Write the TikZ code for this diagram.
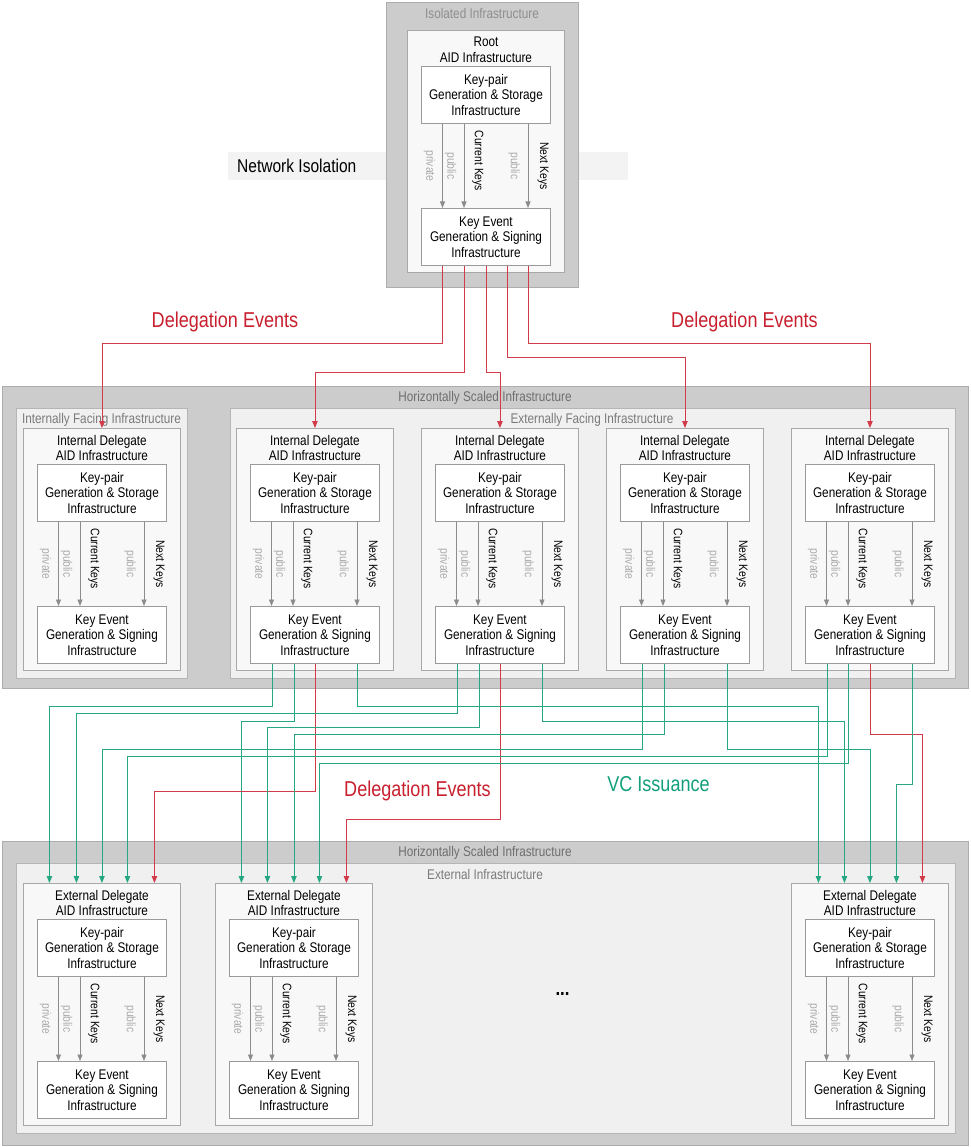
\documentclass[tikz,border=0pt]{standalone}
\usepackage{fontspec}
\setmainfont{Liberation Sans}[FakeStretch=0.84]
\usetikzlibrary{arrows.meta}
\definecolor{outerg}{HTML}{CCCCCC}
\definecolor{outerl}{HTML}{ADADAD}
\definecolor{liteg}{HTML}{F0F0F0}
\definecolor{litel}{HTML}{B5B5B5}
\definecolor{aidg}{HTML}{F8F8F8}
\definecolor{aidl}{HTML}{A8A8A8}
\definecolor{inl}{HTML}{9A9A9A}
\definecolor{lblgrey}{HTML}{7A7A7A}
\definecolor{keyarr}{HTML}{8C8C8C}
\definecolor{paletxt}{HTML}{ABABAB}
\definecolor{wred}{HTML}{D23C4A}
\definecolor{wgreen}{HTML}{26A784}
\definecolor{tred}{HTML}{C8202F}
\definecolor{tgreen}{HTML}{12A07C}
\definecolor{bandg}{HTML}{F3F3F3}
\newcommand{\setfs}[2]{\fontsize{#1}{#2}\selectfont}
\newcommand{\aidunit}[5]{%
  \node[aidbox] (#1) at (#2,#3) {};
  \node[ttl] (#1t) at ([yshift=-20pt]#1.north) {#4\\#5};
  \node[inbox] (#1kp) at ([xshift=14pt,yshift=-36pt]#1.north west) {Key-pair\\Generation \& Storage\\Infrastructure};
  \node[inbox] (#1ke) at ([xshift=14pt,yshift=-178pt]#1.north west) {Key Event\\Generation \& Signing\\Infrastructure};
  \draw[karr] ([xshift=21.5pt]#1kp.south west) -- ([xshift=21.5pt]#1ke.north west);
  \draw[karr] ([xshift=43pt]#1kp.south west) -- ([xshift=43pt]#1ke.north west);
  \draw[karr] ([xshift=107pt]#1kp.south west) -- ([xshift=107pt]#1ke.north west);
  \node[klbl, text=paletxt] (#1la) at ([xshift=8.5pt,yshift=-42pt]#1kp.south west) {private};
  \node[klbl, text=paletxt] (#1lb) at ([xshift=29.5pt,yshift=-42pt]#1kp.south west) {public};
  \node[klbl, text=black] (#1lc) at ([xshift=57pt,yshift=-37pt]#1kp.south west) {Current Keys};
  \node[klbl, text=paletxt] (#1ld) at ([xshift=93pt,yshift=-42pt]#1kp.south west) {public};
  \node[klbl, text=black] (#1le) at ([xshift=122pt,yshift=-42pt]#1kp.south west) {Next Keys};
}
\newcommand{\wire}[6]{%
  \coordinate (ws) at ([xshift=#3pt]#2.south);
  \coordinate (wh) at (0,#4);
  \draw[#1] (ws) -- (ws |- wh) -| ([xshift=#6pt]#5.north);
}
\begin{document}
\begin{tikzpicture}[x=1pt,y=-1pt,
  cont/.style={draw=outerl, fill=outerg, anchor=north west, inner sep=0pt, line width=0.9pt},
  lite/.style={draw=litel, fill=liteg, anchor=north west, inner sep=0pt, line width=0.9pt},
  clabel/.style={text=lblgrey, font=\setfs{14}{16}, inner sep=0pt},
  aidbox/.style={draw=aidl, fill=aidg, anchor=north west, inner sep=0pt, line width=0.9pt, minimum width=157pt, minimum height=242pt},
  ttl/.style={align=center, font=\setfs{14}{15.5}, inner sep=0pt, text=black},
  inbox/.style={draw=inl, fill=white, anchor=north west, inner sep=0pt, line width=0.9pt, minimum width=129pt, minimum height=57pt, align=center, font=\setfs{14}{15.5}},
  karr/.style={draw=keyarr, line width=0.8pt, -{Triangle[width=5pt,length=6.5pt]}},
  klbl/.style={rotate=-90, font=\setfs{12.3}{14}, inner sep=0pt},
  redw/.style={draw=wred, line width=0.9pt, -{Triangle[width=5.5pt,length=7pt]}},
  grnw/.style={draw=wgreen, line width=0.9pt, -{Triangle[width=5.5pt,length=7pt]}},
  big/.style={font=\setfs{21.5}{25}, inner sep=0pt}
]
\useasboundingbox (0,0) rectangle (970,1147);
\fill[white] (0,0) rectangle (970,1147);

% ---------- top: isolated infrastructure ----------
\node[fill=bandg, anchor=north west, inner sep=0pt, minimum width=400pt, minimum height=28pt] (band) at (228,152) {};
\node[anchor=west, font=\setfs{18.5}{21}, inner sep=0pt] (netiso) at (237,165.5) {Network Isolation};
\node[cont, minimum width=192pt, minimum height=285pt] (iso) at (386,2) {};
\node[clabel, text=lblgrey!85] (isol) at (482,13.5) {Isolated Infrastructure};
\aidunit{r}{407}{30}{Root}{AID Infrastructure}

% ---------- middle: horizontally scaled ----------
\node[cont, minimum width=966pt, minimum height=302pt] (hs1) at (2,386) {};
\node[clabel, text=lblgrey!90!black] (hs1l) at (485,397.5) {Horizontally Scaled Infrastructure};
\node[lite, minimum width=171pt, minimum height=270pt] (intf) at (16,408) {};
\node[clabel] (intfl) at (101.5,419.5) {Internally Facing Infrastructure};
\node[lite, minimum width=725pt, minimum height=270pt] (extf) at (230,408) {};
\node[clabel] (extfl) at (592,419.5) {Externally Facing Infrastructure};
\aidunit{i}{23}{428}{Internal Delegate}{AID Infrastructure}
\aidunit{da}{236}{428}{Internal Delegate}{AID Infrastructure}
\aidunit{db}{421}{428}{Internal Delegate}{AID Infrastructure}
\aidunit{dc}{606}{428}{Internal Delegate}{AID Infrastructure}
\aidunit{dd}{791}{428}{Internal Delegate}{AID Infrastructure}

% ---------- bottom: horizontally scaled ----------
\node[cont, minimum width=966pt, minimum height=304pt] (hs2) at (2,841) {};
\node[clabel, text=lblgrey!90!black] (hs2l) at (485,852.5) {Horizontally Scaled Infrastructure};
\node[lite, minimum width=939pt, minimum height=270pt] (extinf) at (16,863) {};
\node[clabel] (extinfl) at (485,874.5) {External Infrastructure};
\aidunit{ba}{23}{883}{External Delegate}{AID Infrastructure}
\aidunit{bb}{215}{883}{External Delegate}{AID Infrastructure}
\aidunit{bc}{791}{883}{External Delegate}{AID Infrastructure}
\node[font=\bfseries\setfs{20}{22}, inner sep=0pt] (dots) at (562.5,994) {...};

% ---------- delegation from root ----------
\wire{redw}{rke}{-43.5}{343}{i}{0}
\wire{redw}{rke}{-21.5}{372}{da}{0}
\wire{redw}{rke}{0}{372}{db}{0}
\wire{redw}{rke}{21.5}{357}{dc}{0}
\wire{redw}{rke}{42.5}{343}{dd}{0}
\node[big, text=tred] (de1) at (225,322) {Delegation Events};
\node[big, text=tred] (de2) at (744.5,322) {Delegation Events};

% ---------- VC issuance and delegation to external ----------
\wire{grnw}{dake}{-42.5}{706}{ba}{-52.5}
\wire{grnw}{dake}{-20.5}{721}{bb}{-52.5}
\wire{redw}{dake}{0}{791}{ba}{52.5}
\wire{grnw}{dake}{42.5}{706}{bc}{-51.5}
\wire{grnw}{dbke}{-42.5}{713}{ba}{-25.5}
\wire{grnw}{dbke}{-20.5}{727}{bb}{-26.5}
\wire{redw}{dbke}{0}{819}{bb}{52.5}
\wire{grnw}{dbke}{42.5}{721}{bc}{-25.5}
\wire{grnw}{dcke}{-42.5}{749}{ba}{0}
\wire{grnw}{dcke}{-20.5}{734}{bb}{0}
\wire{grnw}{dcke}{42.5}{749}{bc}{0}
\wire{grnw}{ddke}{-42.5}{756}{ba}{25.5}
\wire{grnw}{ddke}{-21.5}{763}{bb}{25.5}
\wire{redw}{ddke}{0}{734}{bc}{52.5}
\wire{grnw}{ddke}{42.5}{784}{bc}{26.5}
\node[big, text=tgreen] (vci) at (658.5,784) {VC Issuance};
\node[big, text=tred] (de3) at (417.5,791) {Delegation Events};
\end{tikzpicture}
\end{document}
